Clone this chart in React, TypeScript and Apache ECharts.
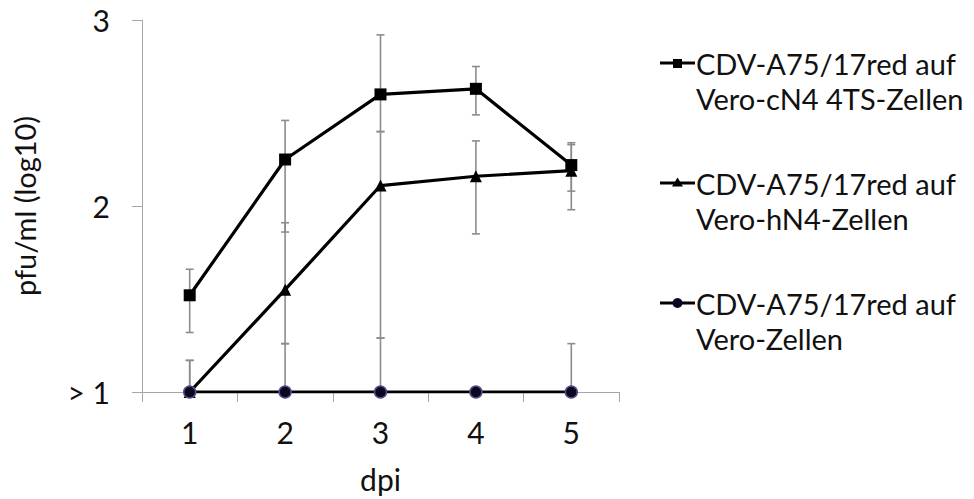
import React, { useEffect, useRef } from "react";
import * as echarts from "echarts";

const days = ["1", "2", "3", "4", "5"];

const cN4Values = [1.52, 2.25, 2.6, 2.63, 2.22];
const cN4Low = [1.32, 1.86, 2.4, 2.49, 2.08];
const cN4High = [1.66, 2.46, 2.92, 2.75, 2.33];

const hN4Values = [1.0, 1.55, 2.11, 2.16, 2.19];
const hN4Low = [1.0, 1.26, 1.29, 1.85, 1.98];
const hN4High = [1.17, 1.91, 2.4, 2.35, 2.34];

const veroValues = [1.0, 1.0, 1.0, 1.0, 1.0];
const veroLow = [1.0, 1.0, 1.0, 1.0, 1.0];
const veroHigh = [1.17, 1.26, 1.29, 1.0, 1.26];

const yTicks = [1, 2, 3];
const yTickLabels = ["> 1", "2", "3"];

const seriesNames = [
  ["CDV-A75/17red auf", "Vero-cN4 4TS-Zellen"],
  ["CDV-A75/17red auf", "Vero-hN4-Zellen"],
  ["CDV-A75/17red auf", "Vero-Zellen"],
];

const FONT = "Lato";
const ERR_COLOR = "#8c8c8c";
const AXIS_COLOR = "#a6a6a6";
const TEXT_COLOR = "#111111";

function errData(vals: number[], lo: number[], hi: number[]) {
  return vals.map((v, i) => [i, lo[i], hi[i], v]);
}

function errorSeries(vals: number[], lo: number[], hi: number[]) {
  return {
    type: "custom",
    z: 1,
    silent: true,
    data: errData(vals, lo, hi),
    encode: { x: 0, y: [1, 2] },
    renderItem: (params: any, api: any) => {
      const x = api.value(0);
      const l = api.value(1);
      const h = api.value(2);
      const v = api.value(3);
      const pL = api.coord([x, l]);
      const pH = api.coord([x, h]);
      const style = { stroke: ERR_COLOR, lineWidth: 1.6 };
      const children: any[] = [];
      if (h !== l) {
        children.push({
          type: "line",
          shape: { x1: pL[0], y1: pL[1], x2: pH[0], y2: pH[1] },
          style,
        });
      }
      if (h !== v) {
        children.push({
          type: "line",
          shape: { x1: pH[0] - 4, y1: pH[1], x2: pH[0] + 4, y2: pH[1] },
          style,
        });
      }
      if (l !== v) {
        children.push({
          type: "line",
          shape: { x1: pL[0] - 4, y1: pL[1], x2: pL[0] + 4, y2: pL[1] },
          style,
        });
      }
      return { type: "group", children };
    },
  };
}

function lineSeries(name: string, vals: number[], symbol: string, size: number, circle = false) {
  return {
    type: "line",
    name,
    z: 3,
    data: vals,
    symbol,
    symbolSize: size,
    showAllSymbol: true,
    lineStyle: { color: "#000000", width: 3.2 },
    itemStyle: circle
      ? { color: "#0a0820", borderColor: "#5a4c8c", borderWidth: 1.5 }
      : { color: "#000000", borderWidth: 0 },
  };
}

function legendItem(yTop: number, lines: string[], marker: any) {
  const lx1 = 660;
  const lx2 = 695;
  return [
    {
      type: "line",
      shape: { x1: lx1, y1: yTop, x2: lx2, y2: yTop },
      style: { stroke: "#000", lineWidth: 3 },
    },
    marker,
    {
      type: "text",
      x: 696,
      y: yTop,
      style: {
        text: lines[0],
        font: `29px ${FONT}`,
        fill: TEXT_COLOR,
        textVerticalAlign: "middle",
        textAlign: "left",
      },
    },
    {
      type: "text",
      x: 696,
      y: yTop + 35,
      style: {
        text: lines[1],
        font: `29px ${FONT}`,
        fill: TEXT_COLOR,
        textVerticalAlign: "middle",
        textAlign: "left",
      },
    },
  ];
}

export default function App() {
  const ref = useRef<HTMLDivElement>(null);
  useEffect(() => {
    if (!ref.current) return;
    const chart = echarts.init(ref.current, undefined, { renderer: "svg" });
    const legendGraphics = [
      ...legendItem(63, seriesNames[0], {
        type: "rect",
        shape: { x: 673, y: 59, width: 9, height: 9 },
        style: { fill: "#000" },
      }),
      ...legendItem(183, seriesNames[1], {
        type: "polygon",
        shape: { points: [[677.5, 177.5], [683, 186.5], [672, 186.5]] },
        style: { fill: "#000" },
      }),
      ...legendItem(303, seriesNames[2], {
        type: "circle",
        shape: { cx: 677.5, cy: 303, r: 5 },
        style: { fill: "#0a0820" },
      }),
    ];
    chart.setOption({
      animation: false,
      backgroundColor: "#ffffff",
      textStyle: { fontFamily: FONT },
      grid: { left: 142, right: 355, top: 20, bottom: 107, containLabel: false },
      xAxis: {
        type: "category",
        data: days,
        boundaryGap: true,
        name: "dpi",
        nameLocation: "middle",
        nameGap: 72,
        nameTextStyle: { fontSize: 30, color: TEXT_COLOR, fontFamily: FONT },
        axisLine: { lineStyle: { color: AXIS_COLOR, width: 1 } },
        axisTick: { show: true, length: 10, alignWithLabel: false, lineStyle: { color: AXIS_COLOR } },
        axisLabel: { fontSize: 30, color: TEXT_COLOR, margin: 25, fontFamily: FONT },
        splitLine: { show: false },
      },
      yAxis: {
        type: "value",
        min: 1,
        max: 3,
        interval: 1,
        name: "pfu/ml (log10)",
        nameLocation: "middle",
        nameGap: 103,
        nameRotate: 90,
        nameTextStyle: { fontSize: 29, color: TEXT_COLOR, fontFamily: FONT },
        axisLine: { show: true, lineStyle: { color: AXIS_COLOR, width: 1 } },
        axisTick: { show: true, length: 10, lineStyle: { color: AXIS_COLOR } },
        axisLabel: {
          fontSize: 30,
          color: TEXT_COLOR,
          margin: 32,
          fontFamily: FONT,
          formatter: (v: number) => {
            const i = yTicks.indexOf(v);
            return i >= 0 ? yTickLabels[i] : "";
          },
        },
        splitLine: { show: false },
      },
      series: [
        errorSeries(cN4Values, cN4Low, cN4High),
        errorSeries(hN4Values, hN4Low, hN4High),
        errorSeries(veroValues, veroLow, veroHigh),
        lineSeries(seriesNames[0].join(" "), cN4Values, "rect", 12),
        lineSeries(seriesNames[1].join(" "), hN4Values, "triangle", 12),
        lineSeries(seriesNames[2].join(" "), veroValues, "circle", 12, true),
      ],
      graphic: legendGraphics,
    });
    return () => chart.dispose();
  }, []);
  return (
    <div
      ref={ref}
      style={{ position: "fixed", left: 0, top: 0, width: 974, height: 499, background: "#fff" }}
    />
  );
}
